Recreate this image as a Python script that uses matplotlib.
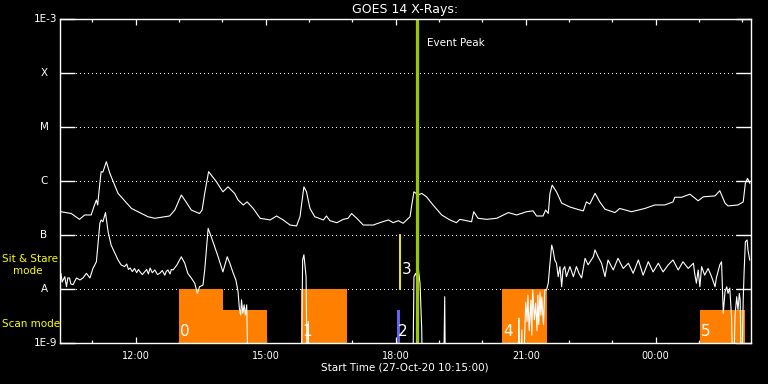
import matplotlib
matplotlib.use('Agg')
import matplotlib.pyplot as plt
import numpy as np

# Time in decimal hours from 27-Oct-20 00:00 (values past 24 are the next day)
long_time = [10.27, 10.51, 10.70, 10.82, 10.97, 11.03, 11.09, 11.12, 11.17, 11.20, 11.24, 11.32,
             11.40, 11.59, 11.90, 12.28, 12.44, 12.78, 12.90, 13.05, 13.16, 13.28, 13.47, 13.53,
             13.59, 13.68, 13.86, 14.01, 14.13, 14.28, 14.36, 14.48, 14.57, 14.71, 14.87, 15.10,
             15.25, 15.40, 15.56, 15.71, 15.79, 15.83, 15.88, 15.94, 16.02, 16.13, 16.33, 16.40,
             16.48, 16.64, 16.79, 16.90, 16.98, 17.10, 17.25, 17.48, 17.63, 17.83, 17.94, 18.06,
             18.17, 18.33, 18.37, 18.42, 18.52, 18.60, 18.71, 18.86, 19.06, 19.25, 19.40, 19.48,
             19.75, 19.80, 19.90, 20.10, 20.33, 20.60, 20.79, 21.02, 21.17, 21.25, 21.40, 21.46,
             21.52, 21.56, 21.61, 21.71, 21.83, 22.02, 22.25, 22.33, 22.40, 22.48, 22.60, 22.71,
             22.83, 23.06, 23.17, 23.44, 23.75, 23.98, 24.21, 24.40, 24.44, 24.60, 24.79, 24.98,
             25.10, 25.37, 25.48, 25.60, 25.67, 25.90, 26.02, 26.07, 26.12, 26.17]
long_flux = [2.7e-7, 2.5e-7, 1.95e-7, 2.35e-7, 2.35e-7, 3.3e-7, 4.45e-7, 3.6e-7, 9.2e-7, 1.49e-6, 1.46e-6, 2.28e-6,
             1.39e-6, 5.9e-7, 3.1e-7, 2.18e-7, 2.04e-7, 2.25e-7, 2.9e-7, 5.5e-7, 4.1e-7, 2.9e-7, 2.5e-7, 2.9e-7,
             5.9e-7, 1.49e-6, 9.7e-7, 6.3e-7, 7.8e-7, 5.9e-7, 4.45e-7, 3.6e-7, 4.1e-7, 3.1e-7, 2.04e-7, 1.9e-7,
             2.25e-7, 1.9e-7, 1.53e-7, 1.47e-7, 2.18e-7, 3.9e-7, 7.8e-7, 6.3e-7, 3.1e-7, 2.18e-7, 1.9e-7, 2.25e-7,
             1.84e-7, 1.69e-7, 1.95e-7, 2.04e-7, 2.5e-7, 2.04e-7, 1.53e-7, 1.53e-7, 1.69e-7, 1.9e-7, 1.69e-7, 1.84e-7,
             1.65e-7, 2.18e-7, 3.6e-7, 6.3e-7, 5.5e-7, 5.9e-7, 5.1e-7, 3.6e-7, 2.35e-7, 1.9e-7, 1.69e-7, 1.95e-7,
             1.76e-7, 2.7e-7, 2.04e-7, 1.95e-7, 2.04e-7, 2.6e-7, 2.35e-7, 2.7e-7, 2.8e-7, 2.25e-7, 2.25e-7, 2.9e-7,
             2.5e-7, 5.9e-7, 8.4e-7, 6.3e-7, 3.9e-7, 3.3e-7, 2.9e-7, 2.8e-7, 4.1e-7, 3.75e-7, 5.9e-7, 4.1e-7,
             3.0e-7, 2.6e-7, 3.1e-7, 2.7e-7, 3.1e-7, 3.6e-7, 3.6e-7, 4.1e-7, 5.0e-7, 5.0e-7, 5.7e-7, 4.3e-7,
             5.1e-7, 5.3e-7, 6.6e-7, 3.9e-7, 3.45e-7, 3.6e-7, 4.1e-7, 9.1e-7, 1.12e-6, 9.1e-7]

# short channel; 1e-10 means below the plotted range
short_time = [10.27, 10.30, 10.36, 10.40, 10.43, 10.47, 10.50, 10.55, 10.63, 10.71, 10.78, 10.86,
              10.94, 11.01, 11.09, 11.17, 11.20, 11.24, 11.30, 11.36, 11.43, 11.59, 11.66, 11.74,
              11.79, 11.83, 11.87, 11.92, 11.97, 12.02, 12.06, 12.10, 12.15, 12.20, 12.25, 12.29,
              12.33, 12.38, 12.44, 12.50, 12.56, 12.61, 12.67, 12.70, 12.74, 12.79, 12.82, 12.86,
              12.95, 13.05, 13.13,
              13.20, 13.28, 13.36, 13.42, 13.47, 13.55, 13.59, 13.67, 13.74, 13.90, 14.01, 14.11,
              14.17, 14.25, 14.31, 14.36, 14.39, 14.42, 14.44, 14.47, 14.50, 14.53, 14.56, 14.60,
              15.82, 15.85, 15.88, 15.93, 15.96, 15.98, 16.00,
              18.39, 18.42, 18.46, 18.49, 18.52, 18.56, 18.60, 18.62,
              19.10, 19.13, 19.15,
              20.83, 20.84, 20.86, 20.91, 20.93, 21.00, 21.03, 21.05, 21.08, 21.12, 21.14, 21.16,
              21.20, 21.23, 21.26, 21.28, 21.30, 21.33, 21.35, 21.37, 21.41, 21.44, 21.48, 21.52,
              21.56, 21.60, 21.63, 21.67, 21.71, 21.75, 21.79, 21.83, 21.86, 21.90, 21.94, 22.02,
              22.10, 22.17, 22.23, 22.29, 22.37, 22.44, 22.56, 22.60, 22.67, 22.75, 22.83, 22.90,
              23.02, 23.13, 23.25, 23.37, 23.48, 23.60, 23.71, 23.83, 23.94, 24.06, 24.17, 24.29,
              24.40, 24.52, 24.63, 24.75, 24.87, 24.90, 24.94, 24.98, 25.02, 25.06, 25.13, 25.21,
              25.29, 25.37, 25.40, 25.48, 25.52, 25.56, 25.60, 25.64, 25.67, 25.71, 25.75, 25.79,
              25.83, 25.87, 25.90, 25.93, 25.95, 25.98, 26.02, 26.04, 26.07, 26.11, 26.13, 26.17]
short_flux = [1.95e-8, 1.35e-8, 1.69e-8, 1.1e-8, 1.6e-8, 1.6e-8, 1.24e-8, 1.2e-8, 1.6e-8, 1.47e-8, 1.6e-8, 1.95e-8,
              1.6e-8, 2.4e-8, 3.2e-8, 1.65e-7, 1.9e-7, 1.76e-7, 2.6e-7, 1.15e-7, 6.5e-8, 3.45e-8, 2.8e-8, 2.6e-8,
              2.9e-8, 2.3e-8, 2.45e-8, 2.1e-8, 2.4e-8, 2.0e-8, 2.3e-8, 2.07e-8, 1.85e-8, 2.07e-8, 2.3e-8, 1.9e-8,
              2.45e-8, 2.0e-8, 2.25e-8, 1.85e-8, 1.98e-8, 2.2e-8, 1.8e-8, 2.1e-8, 2.25e-8, 1.9e-8, 2.3e-8, 2.25e-8,
              2.8e-8, 3.95e-8, 3.0e-8,
              1.95e-8, 1.6e-8, 1.28e-8, 8.3e-9, 1.1e-8, 1.18e-8, 2.25e-8, 1.33e-7, 9.3e-8, 3.95e-8, 2.07e-8, 3.95e-8,
              3.0e-8, 1.95e-8, 1.47e-8, 8.9e-9, 4.4e-9, 3.3e-9, 6.3e-9, 3.55e-9, 5.1e-9, 3.3e-9, 5.1e-9, 1e-10,
              1e-10, 3.45e-8, 4.3e-8, 1.69e-8, 1e-10, 2.5e-9, 1e-10,
              1e-10, 1.69e-8, 1.95e-8, 1.6e-8, 2.4e-8, 1.28e-8, 1.74e-9, 1e-10,
              1e-10, 7.2e-9, 1e-10,
              1e-10, 2.9e-9, 1e-10, 1.74e-9, 1e-10, 5.7e-9, 2.5e-9, 7.7e-9, 1.7e-9, 6.2e-9, 1.4e-9, 9.6e-9,
              2.7e-9, 5.5e-9, 1.7e-9, 7.7e-9, 2.2e-9, 8.8e-9, 3.3e-9, 7.1e-9, 2.2e-9, 9.6e-9, 9.6e-9, 1.28e-8,
              3.0e-8, 6.5e-8, 5.3e-8, 3.45e-8, 3.0e-8, 1.69e-8, 2.6e-8, 1.1e-8, 2.25e-8, 2.6e-8, 1.69e-8, 2.6e-8,
              1.69e-8, 2.6e-8, 1.95e-8, 1.6e-8, 3.7e-8, 2.8e-8, 3.95e-8, 5.3e-8, 3.95e-8, 3.0e-8, 1.69e-8, 3.45e-8,
              2.25e-8, 3.7e-8, 2.4e-8, 3.0e-8, 1.95e-8, 3.45e-8, 1.8e-8, 3.2e-8, 2.07e-8, 3.0e-8, 2.07e-8, 2.8e-8,
              3.45e-8, 2.25e-8, 3.2e-8, 2.4e-8, 3.0e-8, 1.95e-8, 1.28e-8, 2.25e-8, 1.1e-8, 2.6e-8, 1.8e-8, 2.4e-8,
              1.69e-8, 1.1e-8, 1.6e-8, 2.8e-8, 3.2e-8, 3.55e-9, 8.9e-9, 1.1e-8, 8.3e-9, 1.04e-8, 3.1e-9, 1e-10,
              3.1e-9, 7.2e-9, 4.1e-9, 8.3e-9, 6.3e-9, 1e-10, 6.3e-9, 1.95e-8, 7.5e-8, 8.1e-8, 5.3e-8, 3.45e-8]

# observing mode blocks
mode_start = [13.00, 14.01, 15.81, 18.03, 20.45, 25.02]
mode_end = [14.01, 15.03, 16.87, 18.10, 21.49, 26.06]
mode_top = [1e-8, 4e-9, 1e-8, 4e-9, 1e-8, 4e-9]
mode_color = ['#ff8000', '#ff8000', '#ff8000', '#6464f0', '#ff8000', '#ff8000']
mode_label = ['0', '', '1', '2', '4', '5']

stare_time = 18.10
stare_range = [1e-8, 1e-7]
stare_label = '3'

peak_time = 18.48

class_levels = [1e-9, 1e-8, 1e-7, 1e-6, 1e-5, 1e-4, 1e-3]
class_names = ['1E-9', 'A', 'B', 'C', 'M', 'X', '1E-3']

hour_ticks = [12, 15, 18, 21, 24]
hour_labels = ['12:00', '15:00', '18:00', '21:00', '00:00']

plt.rcParams['font.family'] = 'DejaVu Sans'

fig = plt.figure(figsize=(7.68, 3.84), dpi=100, facecolor='black')
ax = fig.add_axes([60 / 768, 41 / 384, 691 / 768, 324 / 384], facecolor='black')

ax.set_yscale('log')
ax.set_ylim(1e-9, 1e-3)
ax.set_xlim(10.25, 26.2)

# dotted class levels
for lev in class_levels[1:-1]:
    ax.axhline(lev, color='white', lw=0.72, linestyle=(0, (1, 3)), antialiased=False, zorder=1)

# mode blocks
for s, e, t, c in zip(mode_start, mode_end, mode_top, mode_color):
    ax.bar(s, t - 1e-9, width=e - s, bottom=1e-9, align='edge', color=c, zorder=2)
for s, lab in zip(mode_start, mode_label):
    if lab:
        ax.annotate(lab, xy=(s, 1e-9), xytext=(1, 4), textcoords='offset pixels',
                    color='white', fontsize=11, ha='left', va='bottom', zorder=5)

ax.plot([stare_time, stare_time], stare_range, color='yellow', lw=1.3, zorder=3)
ax.annotate(stare_label, xy=(stare_time, stare_range[0]), xytext=(2, 12), textcoords='offset pixels',
            color='white', fontsize=11, ha='left', va='bottom', zorder=5)

# flux curves
ax.plot(long_time, long_flux, color='white', lw=0.8, zorder=4)
ax.plot(short_time, short_flux, color='white', lw=0.8, zorder=4)

# event peak
ax.axvline(peak_time, color='#9bc800', lw=2.3, zorder=6)
ax.annotate('Event Peak', xy=(peak_time, 1e-3), xytext=(10, -24), textcoords='offset pixels',
            color='white', fontsize=7.5, ha='left', va='center')

# axes styling
for sp in ax.spines.values():
    sp.set_color('white')
    sp.set_linewidth(1.0)
    sp.set_zorder(7)

ax.set_yticks(class_levels)
ax.yaxis.set_minor_locator(matplotlib.ticker.NullLocator())
ax.set_yticklabels([])
ax.tick_params(axis='y', which='major', direction='in', length=10.5, width=1.0,
               color='white', left=True, right=True)

ax.set_xticks(hour_ticks)
ax.set_xticklabels(hour_labels)
ax.set_xticks(np.arange(11, 27), minor=True)
ax.tick_params(axis='x', which='major', direction='in', length=4.5, width=0.9, color='white',
               top=True, bottom=True, labelcolor='white', labelsize=7, pad=6)
ax.tick_params(axis='x', which='minor', direction='in', length=2.5, width=0.9, color='white',
               top=True, bottom=True)

for lev, name in zip(class_levels, class_names):
    if name.startswith('1E'):
        ax.annotate(name, xy=(0, lev), xycoords=('axes fraction', 'data'), xytext=(-3, 0),
                    textcoords='offset pixels', color='white', fontsize=7.5, ha='right', va='center')
    else:
        ax.annotate(name, xy=(0, lev), xycoords=('axes fraction', 'data'), xytext=(-16, 0),
                    textcoords='offset pixels', color='white', fontsize=7.5, ha='center', va='center')

fig.text(405 / 768, 1 - 9 / 384, 'GOES 14 X-Rays:', color='white', fontsize=9, ha='center', va='center')
fig.text(405 / 768, 1 - 368 / 384, 'Start Time (27-Oct-20 10:15:00)', color='white', fontsize=7.5,
         ha='center', va='center')

fig.text(2 / 768, 1 - 259 / 384, 'Sit & Stare', color='yellow', fontsize=7.5, ha='left', va='center')
fig.text(13 / 768, 1 - 271 / 384, 'mode', color='yellow', fontsize=7.5, ha='left', va='center')
fig.text(2 / 768, 1 - 324 / 384, 'Scan mode', color='yellow', fontsize=7.5, ha='left', va='center')

fig.savefig('out.png', dpi=100, facecolor='black')
